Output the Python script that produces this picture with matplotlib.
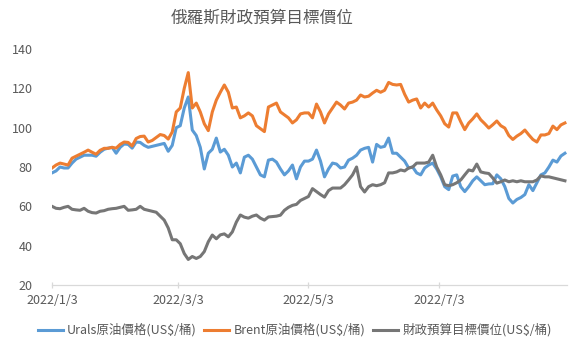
import matplotlib
matplotlib.use("Agg")
import matplotlib.pyplot as plt
import matplotlib.dates as mdates
import pandas as pd

title = "俄羅斯財政預算目標價位"
series_names = ["Urals原油價格(US$/桶)", "Brent原油價格(US$/桶)", "財政預算目標價位(US$/桶)"]
start_date = "2022-01-03"
end_date = "2022-08-31"
tick_dates = ["2022-01-03", "2022-03-03", "2022-05-03", "2022-07-03"]
tick_labels = ["2022/1/3", "2022/3/3", "2022/5/3", "2022/7/3"]
y_ticks = [20, 40, 60, 80, 100, 120, 140]

urals = [
    77, 78, 80, 79.5, 79.5, 82, 84, 85, 86, 86,
    86, 85.5, 87.5, 89, 89.6, 90, 87, 90, 91.7, 91.5,
    89.6, 92.7, 92.5, 91, 90, 90.5, 91, 91.5, 92, 88,
    91, 100, 101, 110, 115.6, 98.8, 96, 90, 79, 87,
    89, 94.7, 87.6, 89, 86, 80, 82, 77, 85, 86,
    84, 80, 76, 75, 83.5, 84, 82.5, 79, 76, 78,
    81, 74, 80, 83, 83, 84, 88.6, 83, 75, 79,
    82, 81.5, 79.5, 80, 83.5, 84.5, 86, 88.6, 89.5, 90,
    82.5, 91.5, 90, 90.5, 94.7, 87, 87, 85, 83, 79.5,
    80, 77, 76, 79.5, 81, 82, 79, 75, 70, 68.5,
    75.4, 76, 70, 67.5, 70, 73, 75, 73, 71, 71.4,
    71.5, 76, 74, 70, 64, 61.7, 63.5, 64.5, 66, 71,
    68, 72, 76, 77, 80, 83.5, 82.5, 85.6, 87,
]

brent = [
    79.5, 81, 82, 81.5, 81, 84.5, 85.5, 86.5, 87.5, 88.6,
    87.5, 86.5, 88.5, 89.5, 89.5, 90, 89.6, 91.5, 92.7, 92.5,
    90.7, 94.5, 95.5, 95.7, 92.7, 93.5, 95, 96.5, 96, 94.2,
    97.8, 108, 110, 120, 128, 110, 112.5, 108, 102, 98.5,
    108, 114, 118, 121.7, 118, 110, 110.5, 105, 106, 107.5,
    106, 101, 99.5, 98, 110.5, 111.5, 112.5, 108, 106.5, 105,
    102.4, 104, 107, 107.5, 107.5, 105, 112, 108, 102.4, 107,
    110, 113, 111.5, 109.5, 112.5, 113, 114, 116.6, 115.6, 116,
    117.6, 119, 118, 119, 123, 122, 121.7, 122, 117, 113,
    114, 114.6, 110, 112.5, 110.5, 112.5, 109, 106, 102, 100.3,
    107.5, 107.5, 103, 99, 102.4, 104.5, 107, 104, 102, 99.8,
    101.5, 103.4, 101, 99.8, 96, 94, 95.7, 97, 98.8, 96.3,
    94, 92.7, 96.3, 96.3, 97, 100.8, 99, 101.4, 102.4,
]

budget = [
    60, 59, 58.8, 59.5, 60, 58.5, 58.2, 58, 59, 57.5,
    56.8, 56.6, 57.5, 57.8, 58.5, 58.8, 59, 59.5, 60, 58,
    58.2, 58.5, 60, 58.5, 58, 57.5, 57, 55, 53, 49,
    43, 43, 41, 36, 33, 34.5, 33.5, 34.5, 37, 42,
    45.4, 43.5, 45.5, 46, 44.5, 47, 52, 55.6, 54.5, 54,
    55, 55.6, 54, 53, 54.6, 54.8, 55, 55.5, 58, 59.5,
    60.5, 61, 63, 64, 65, 69, 67.5, 66, 64.7, 68,
    69.3, 69.3, 69.3, 71, 73.4, 76, 80, 70, 67.3, 70,
    71, 70.5, 71, 72, 77, 77, 77.5, 78.5, 78, 79.5,
    80, 82, 82, 82, 82.5, 86, 80, 76, 71, 70.5,
    71, 72, 73.4, 76, 78.5, 78, 81.5, 77.5, 77, 76.7,
    74.4, 71.8, 72.5, 73.4, 72.5, 73, 72.5, 73, 72.5, 72.5,
    72.5, 73.4, 75.5, 75, 75, 74.5, 74, 73.5, 73,
]

colors = ["#5B9BD5", "#ED7D31", "#767676"]
text_color = "#595959"
fonts = ["Noto Sans CJK TC", "DejaVu Sans"]
plt.rcParams["font.family"] = fonts

dates = pd.date_range(start_date, end_date, periods=len(urals))

fig = plt.figure(figsize=(5.8, 3.52), dpi=100)
ax = fig.add_axes([0.0897, 0.1903, 0.888, 0.6705])

for vals, name, c in zip([urals, brent, budget], series_names, colors):
    ax.plot(dates, vals, color=c, lw=2.2, label=name, solid_joinstyle="round")

ax.set_ylim(20, 140)
ax.set_yticks(y_ticks)
ax.set_xlim(pd.Timestamp(start_date), pd.Timestamp(end_date) + pd.Timedelta(days=1))
ax.set_xticks([pd.Timestamp(d) for d in tick_dates])
ax.set_xticklabels(tick_labels)

for s in ["top", "right", "left"]:
    ax.spines[s].set_visible(False)
ax.spines["bottom"].set_color("#D9D9D9")
ax.spines["bottom"].set_linewidth(0.9)

ax.tick_params(axis="y", length=0, pad=14, labelsize=9, labelcolor=text_color)
ax.tick_params(axis="x", direction="inout", length=5, color="#D9D9D9", width=0.9,
               pad=4, labelsize=9, labelcolor=text_color)

fig.text(0.452, 0.949, title, ha="center", va="center", fontsize=12,
         color=text_color)

leg = fig.legend(loc="center", bbox_to_anchor=(0.508, 0.062), ncol=3,
                 frameon=False, fontsize=9, handlelength=2.0,
                 handletextpad=0.35, columnspacing=0.6)
for t in leg.get_texts():
    t.set_color(text_color)

fig.savefig("out.png", dpi=100)
